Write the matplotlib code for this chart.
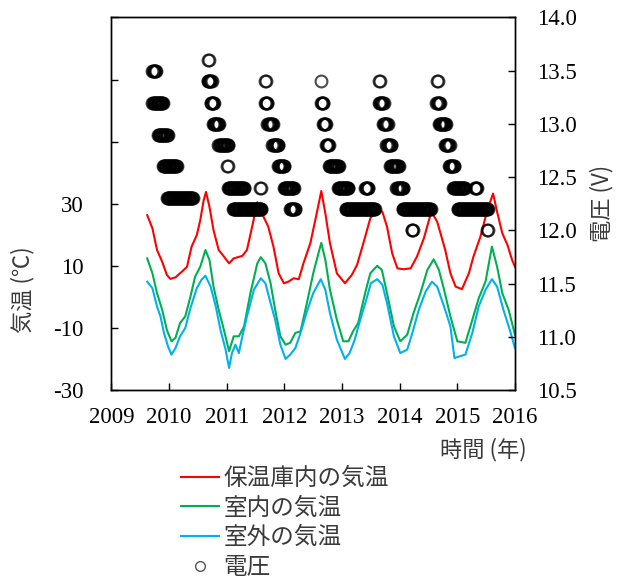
import numpy as np
import matplotlib
matplotlib.use("Agg")
import matplotlib.pyplot as plt
from matplotlib.lines import Line2D

# Monthly-ish air temperatures (decimal year, degC)
box_year = [2009.62, 2009.71, 2009.79, 2009.88, 2009.96, 2010.02, 2010.11, 2010.22, 2010.31, 2010.39,
            2010.48, 2010.54, 2010.60, 2010.64, 2010.70, 2010.77, 2010.86, 2010.95, 2011.04, 2011.12,
            2011.27, 2011.35, 2011.44, 2011.53, 2011.61, 2011.72, 2011.81, 2011.90, 2011.99, 2012.07,
            2012.16, 2012.25, 2012.33, 2012.45, 2012.56, 2012.64, 2012.71, 2012.79, 2012.91, 2013.05,
            2013.17, 2013.26, 2013.37, 2013.49, 2013.61, 2013.70, 2013.78, 2013.87, 2013.96, 2014.07,
            2014.19, 2014.30, 2014.42, 2014.55, 2014.65, 2014.70, 2014.79, 2014.88, 2014.97, 2015.08,
            2015.20, 2015.28, 2015.40, 2015.52, 2015.62, 2015.69, 2015.78, 2015.87, 2015.95, 2016.00]
box_temp = [26.3, 22.1, 15.1, 11.3, 7.1, 5.8, 6.3, 8.1, 9.7, 16.2,
            19.9, 24.7, 31.2, 33.8, 29.0, 21.5, 15.1, 13.0, 10.8, 12.4,
            13.2, 15.1, 22.6, 30.5, 26.9, 22.6, 16.2, 7.6, 4.4, 4.9,
            6.0, 5.7, 10.8, 17.3, 26.9, 34.1, 26.9, 17.3, 7.6, 4.4,
            7.1, 10.3, 17.3, 25.3, 28.2, 27.4, 22.6, 14.0, 9.2, 8.9,
            9.2, 13.0, 18.9, 27.5, 24.2, 21.0, 15.1, 7.6, 3.3, 2.5,
            7.6, 13.0, 19.4, 27.9, 33.3, 27.4, 20.5, 16.7, 11.9, 9.7]

indoor_year = [2009.62, 2009.71, 2009.79, 2009.88, 2009.96, 2010.04, 2010.11, 2010.19, 2010.28, 2010.37,
               2010.45, 2010.54, 2010.63, 2010.70, 2010.77, 2010.86, 2010.95, 2011.04, 2011.12, 2011.21,
               2011.30, 2011.41, 2011.53, 2011.59, 2011.67, 2011.76, 2011.84, 2011.93, 2012.02, 2012.10,
               2012.19, 2012.28, 2012.39, 2012.50, 2012.59, 2012.64, 2012.71, 2012.79, 2012.91, 2013.02,
               2013.11, 2013.19, 2013.28, 2013.40, 2013.49, 2013.61, 2013.69, 2013.78, 2013.90, 2014.01,
               2014.13, 2014.24, 2014.36, 2014.48, 2014.59, 2014.68, 2014.77, 2014.88, 2015.00, 2015.14,
               2015.26, 2015.37, 2015.49, 2015.60, 2015.69, 2015.78, 2015.89, 2016.00]
indoor_temp = [12.4, 7.6, 1.2, -4.2, -10.6, -14.3, -13.2, -8.4, -6.3, 0.1,
               6.5, 9.7, 15.1, 11.9, 3.3, -4.2, -10.6, -17.5, -12.7, -12.7,
               -9.5, 1.2, 10.8, 12.8, 10.8, 4.4, -4.2, -12.7, -15.4, -14.8,
               -11.6, -11.1, -2.0, 7.6, 14.0, 17.4, 11.9, 2.3, -7.4, -14.3,
               -14.3, -11.1, -8.4, 1.2, 7.6, 10.0, 8.7, 1.2, -9.5, -14.3,
               -12.2, -5.2, 1.2, 8.7, 12.1, 8.7, 2.3, -6.3, -14.3, -14.8,
               -7.4, -0.5, 5.0, 16.2, 9.7, 1.2, -4.2, -12.2]

outdoor_year = [2009.62, 2009.71, 2009.79, 2009.85, 2009.91, 2009.98, 2010.04, 2010.11, 2010.19, 2010.28,
                2010.37, 2010.48, 2010.56, 2010.63, 2010.72, 2010.81, 2010.89, 2010.98, 2011.04, 2011.09,
                2011.15, 2011.21, 2011.27, 2011.35, 2011.47, 2011.59, 2011.67, 2011.76, 2011.84, 2011.93,
                2012.02, 2012.10, 2012.19, 2012.28, 2012.39, 2012.50, 2012.63, 2012.71, 2012.79, 2012.91,
                2013.05, 2013.13, 2013.22, 2013.30, 2013.42, 2013.50, 2013.61, 2013.70, 2013.78, 2013.90,
                2014.01, 2014.13, 2014.22, 2014.33, 2014.45, 2014.56, 2014.65, 2014.77, 2014.88, 2014.95,
                2015.03, 2015.14, 2015.26, 2015.37, 2015.49, 2015.60, 2015.69, 2015.80, 2015.91, 2016.00]
outdoor_temp = [4.9, 2.8, -3.1, -6.3, -11.6, -15.9, -18.6, -16.5, -12.7, -10.0,
                -3.6, 2.8, 5.5, 6.8, 3.3, -3.1, -10.6, -17.0, -22.9, -18.1,
                -15.4, -18.1, -12.7, -6.3, 2.3, 6.0, 4.4, -2.0, -7.4, -15.4,
                -20.0, -18.6, -16.5, -11.6, -4.7, 1.2, 5.7, 2.3, -5.2, -13.8,
                -20.0, -18.1, -13.8, -8.4, -0.9, 4.4, 5.7, 3.9, -2.0, -12.7,
                -18.1, -17.0, -11.6, -4.2, 1.7, 4.9, 3.3, -3.1, -9.5, -19.7,
                -19.2, -18.6, -11.6, -3.1, 2.3, 5.7, 3.3, -4.2, -10.6, -16.5]

# Battery voltage: the logger reports in fixed steps, so the record is kept as
# runs (first reading, last reading, voltage) sampled every ~4 days
run_start = [2009.711, 2009.711, 2009.807, 2009.893, 2009.963,
             2010.674, 2010.666, 2010.718, 2010.761, 2010.856, 2011.012, 2011.021, 2011.576, 2011.108,
             2011.663, 2011.663, 2011.706, 2011.793, 2011.889, 2011.993, 2012.097,
             2012.643, 2012.635, 2012.669, 2012.721, 2012.773, 2012.929, 2013.398, 2013.060,
             2013.646, 2013.641, 2013.710, 2013.771, 2013.832, 2013.944, 2014.049, 2014.205,
             2014.647, 2014.638, 2014.682, 2014.786, 2014.855, 2014.924, 2015.298, 2015.003, 2015.515]
run_end = [2009.772, 2009.890, 2009.977, 2010.136, 2010.414,
           2010.684, 2010.740, 2010.778, 2010.865, 2011.021, 2011.022, 2011.298, 2011.586, 2011.594,
           2011.673, 2011.706, 2011.793, 2011.897, 2012.001, 2012.158, 2012.184,
           2012.643, 2012.678, 2012.721, 2012.773, 2012.946, 2013.112, 2013.459, 2013.572,
           2013.656, 2013.719, 2013.788, 2013.849, 2013.979, 2014.066, 2014.543, 2014.225,
           2014.657, 2014.699, 2014.803, 2014.864, 2014.942, 2015.132, 2015.341, 2015.532, 2015.525]
run_volt = [13.5, 13.2, 12.9, 12.6, 12.3,
            13.6, 13.4, 13.2, 13.0, 12.8, 12.6, 12.4, 12.4, 12.2,
            13.4, 13.2, 13.0, 12.8, 12.6, 12.4, 12.2,
            13.4, 13.2, 13.0, 12.8, 12.6, 12.4, 12.4, 12.2,
            13.4, 13.2, 13.0, 12.8, 12.6, 12.4, 12.2, 12.0,
            13.4, 13.2, 13.0, 12.8, 12.6, 12.4, 12.4, 12.2, 12.0]

labels = ["保温庫内の気温", "室内の気温", "室外の気温", "電圧"]

volt_t, volt_v = [], []
for t0, t1, v in zip(run_start, run_end, run_volt):
    ts = np.arange(t0, t1 + 0.005, 0.01)
    volt_t.extend(ts)
    volt_v.extend([v] * len(ts))

jp = ["Noto Sans CJK JP", "DejaVu Sans"]
serif = "Liberation Serif"
label_color = "#3a3a3a"

fig = plt.figure(figsize=(6.18, 5.79), dpi=100)
ax = fig.add_axes([0.1804, 0.3264, 0.6529, 0.6434])

ax.plot(box_year, box_temp, color="#ff0000", lw=1.5)
ax.plot(indoor_year, indoor_temp, color="#00b050", lw=1.5)
ax.plot(outdoor_year, outdoor_temp, color="#00b0f0", lw=1.5)

ax.set_xlim(2009, 2016)
ax.set_ylim(-30, 90)
ax.set_xticks(range(2009, 2017))
ax.set_xticklabels([str(y) for y in range(2009, 2017)])
ax.set_yticks(range(-30, 91, 20))
ax.set_yticklabels([str(v) if v <= 30 else "" for v in range(-30, 91, 20)])
ax.tick_params(axis="x", direction="in", length=5, width=1, labelsize=16.5, pad=12)
ax.tick_params(axis="y", direction="in", length=5, width=1, labelsize=16.5, pad=20)

ax2 = ax.twinx()
ax2.plot(volt_t, volt_v, linestyle="none", marker="o", ms=8.5, mfc="none",
         mec="black", mew=1.5, alpha=0.7)
ax2.set_ylim(10.5, 14.0)
ax2.set_yticks(np.arange(10.5, 14.01, 0.5))
ax2.set_yticklabels([f"{v:.1f}" for v in np.arange(10.5, 14.01, 0.5)])
ax2.tick_params(axis="y", direction="in", length=5, width=1, labelsize=16.5, pad=16)

for a in (ax, ax2):
    for lab in a.get_xticklabels() + a.get_yticklabels():
        lab.set_fontfamily(serif)
    for s in a.spines.values():
        s.set_linewidth(1.0)

fig.text(23 / 618, 1 - 290 / 579, "気温 (℃)", rotation=90, ha="center", va="center",
         fontsize=16, family=jp, color=label_color)
fig.text(602 / 618, 1 - 203 / 579, "電圧 (V)", rotation=90, ha="center", va="center",
         fontsize=16, family=jp, color=label_color)
fig.text(483 / 618, 1 - 450 / 579, "時間 (年)", ha="center", va="center",
         fontsize=16, family=jp, color=label_color)

handles = [Line2D([], [], color="#ff0000", lw=1.5),
           Line2D([], [], color="#00b050", lw=1.5),
           Line2D([], [], color="#00b0f0", lw=1.5),
           Line2D([], [], linestyle="none", marker="o", ms=7, mfc="none", mec="#555555", mew=1.0)]
leg = fig.legend(handles, labels, loc="upper left", bbox_to_anchor=(181 / 618, 1 - 467 / 579),
                 frameon=False, prop={"family": jp, "size": 17}, handlelength=1.6,
                 handletextpad=0.2, labelspacing=0.28, borderpad=0, borderaxespad=0)
for t in leg.get_texts():
    t.set_color(label_color)

fig.savefig("out.png", dpi=100)
